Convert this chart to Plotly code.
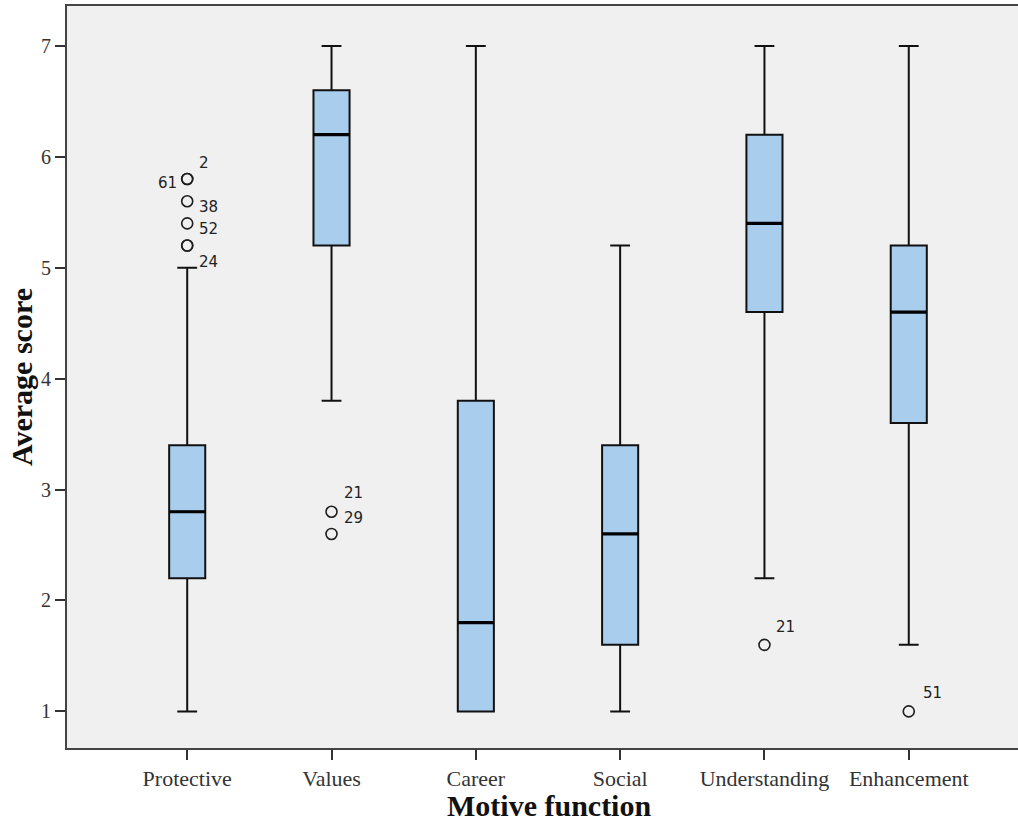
import plotly.graph_objects as go

categories = ["Protective", "Values", "Career", "Social", "Understanding", "Enhancement"]
lower_whisker = [1.0, 3.8, 1.0, 1.0, 2.2, 1.6]
q1 = [2.2, 5.2, 1.0, 1.6, 4.6, 3.6]
median = [2.8, 6.2, 1.8, 2.6, 5.4, 4.6]
q3 = [3.4, 6.6, 3.8, 3.4, 6.2, 5.2]
upper_whisker = [5.0, 7.0, 7.0, 5.2, 7.0, 7.0]

# outliers
out_cat = ["Protective", "Protective", "Protective", "Protective", "Protective", "Protective",
           "Values", "Values", "Understanding", "Enhancement"]
out_val = [5.8, 5.8, 5.6, 5.4, 5.2, 5.2, 2.8, 2.6, 1.6, 1.0]
out_label = ["2", "61", "38", "52", "24", "", "21", "29", "21", "51"]
# label placement relative to the point (pixels)
lab_dx = [10, -8, 10, 10, 10, 0, 10, 10, 10, 12]
lab_dy = [16, -4, -6, -6, -16, 0, 19, 16, 18, 18]
lab_anchor = ["left", "right", "left", "left", "left", "left", "left", "left", "left", "left"]

box_width = 0.25
fill = "#A9CDEC"
serif = "Liberation Serif"

fig = go.Figure()
for i, c in enumerate(categories):
    fig.add_trace(go.Box(
        x=[c], q1=[q1[i]], median=[median[i]], q3=[q3[i]],
        lowerfence=[lower_whisker[i]], upperfence=[upper_whisker[i]],
        width=box_width, whiskerwidth=0.55,
        fillcolor=fill, line=dict(color="#111", width=2),
        boxpoints=False, showlegend=False, hoverinfo="skip",
    ))

# thick median lines
mx, my = [], []
for i, c in enumerate(categories):
    mx += [i - box_width / 2, i + box_width / 2, None]
    my += [median[i], median[i], None]
fig.add_trace(go.Scatter(x=mx, y=my, mode="lines", line=dict(color="black", width=3.2),
                         showlegend=False, hoverinfo="skip", xaxis="x2"))

# outliers
fig.add_trace(go.Scatter(
    x=out_cat, y=out_val, mode="markers",
    marker=dict(symbol="circle-open", size=11, color="#1e1e1e", line=dict(width=1.6)),
    showlegend=False, hoverinfo="skip",
))

for c, v, t, dx, dy, a in zip(out_cat, out_val, out_label, lab_dx, lab_dy, lab_anchor):
    if t:
        fig.add_annotation(x=c, y=v, text=t, showarrow=False, xshift=dx, yshift=dy,
                           xanchor=a, yanchor="middle",
                           font=dict(family="DejaVu Sans", size=15, color="#222"))

# x-axis title
fig.add_annotation(x=0.507, y=-0.077, xref="paper", yref="paper", text="<b>Motive function</b>",
                   showarrow=False, xanchor="center", yanchor="middle",
                   font=dict(family=serif, size=30, color="#111"))

xr = [-0.833, 5.757]
fig.update_layout(
    width=1018, height=823,
    margin=dict(l=67, r=0, t=6, b=75),
    paper_bgcolor="white", plot_bgcolor="#F0F0F0",
    xaxis=dict(type="category", categoryarray=categories, range=xr,
               showline=True, mirror=True, linecolor="#444", linewidth=2,
               ticks="outside", ticklen=10, tickwidth=1.5, tickcolor="#333",
               showgrid=False, zeroline=False,
               tickfont=dict(family=serif, size=22, color="#333")),
    xaxis2=dict(overlaying="x", range=xr, visible=False),
    yaxis=dict(range=[0.67, 7.36], showline=True, linecolor="#444", linewidth=2,
               ticks="outside", ticklen=10, tickwidth=1.5, tickcolor="#333",
               tickvals=[1, 2, 3, 4, 5, 6, 7], showgrid=False, zeroline=False,
               tickfont=dict(family=serif, size=20, color="#333"),
               title=dict(text="<b>Average score</b>", standoff=0,
                          font=dict(family=serif, size=30, color="#111"))),
)

fig.write_html("out.html")
